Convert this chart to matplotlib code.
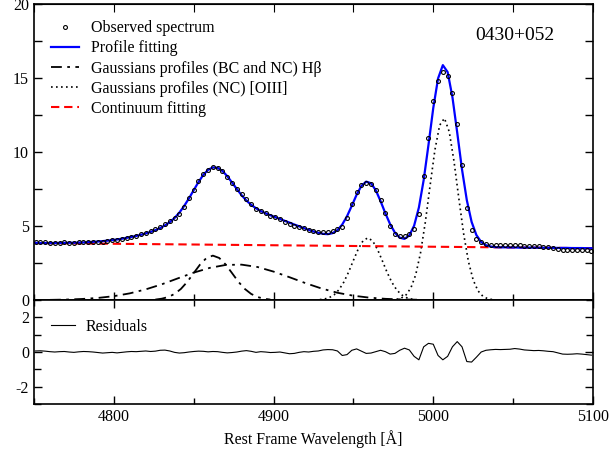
import numpy as np
import matplotlib
matplotlib.use("Agg")
import matplotlib.pyplot as plt
from matplotlib.ticker import MultipleLocator

plt.rcParams['font.family'] = ['Liberation Serif', 'DejaVu Serif']
plt.rcParams['font.size'] = 11.5
plt.rcParams['axes.unicode_minus'] = False

# spectrum grid (rest frame, 3 A bins)
wave = np.arange(4751, 5100, 3)

# profile fitting (sum of components + continuum)
fit = [3.86, 3.85, 3.85, 3.85, 3.85, 3.86, 3.86, 3.87, 3.87, 3.88,
       3.89, 3.91, 3.93, 3.95, 3.98, 4.01, 4.05, 4.09, 4.14, 4.20,
       4.26, 4.33, 4.41, 4.50, 4.60, 4.72, 4.86, 5.04, 5.26, 5.54,
       5.90, 6.35, 6.86, 7.42, 7.97, 8.45, 8.80, 8.96, 8.93, 8.72,
       8.37, 7.94, 7.50, 7.08, 6.72, 6.43, 6.20, 6.01, 5.86, 5.73,
       5.60, 5.48, 5.35, 5.23, 5.10, 4.98, 4.86, 4.74, 4.63, 4.54,
       4.47, 4.45, 4.52, 4.72, 5.10, 5.66, 6.37, 7.11, 7.71, 8.00,
       7.89, 7.42, 6.68, 5.86, 5.12, 4.55, 4.21, 4.13, 4.36, 5.02,
       6.25, 8.11, 10.48, 12.97, 14.97, 15.87, 15.40, 13.71, 11.31, 8.82,
       6.75, 5.28, 4.39, 3.92, 3.70, 3.61, 3.57, 3.56, 3.56, 3.55,
       3.55, 3.54, 3.54, 3.54, 3.54, 3.53, 3.53, 3.53, 3.52, 3.52,
       3.52, 3.52, 3.51, 3.51, 3.51, 3.50, 3.50]

# residuals (observed - fit)
resid = [0.06, 0.07, 0.05, 0.02, 0.00, 0.02, 0.03, 0.00, -0.02, 0.01,
         0.03, 0.02, 0.00, -0.03, -0.06, -0.04, -0.02, -0.05, -0.02, 0.01,
         0.03, 0.02, 0.04, 0.06, 0.03, 0.05, 0.10, 0.11, 0.06, -0.02,
         -0.06, -0.04, 0.00, 0.03, 0.05, 0.04, 0.01, 0.03, 0.02, -0.02,
         -0.05, -0.03, 0.00, 0.05, 0.08, 0.04, -0.02, 0.02, 0.00, -0.03,
         -0.02, 0.00, -0.05, -0.10, -0.08, -0.02, 0.02, 0.00, 0.04, 0.06,
         0.12, 0.14, 0.13, 0.06, -0.20, -0.15, 0.10, 0.18, 0.05, -0.08,
         -0.06, 0.02, 0.10, 0.02, -0.12, -0.08, 0.10, 0.22, 0.12, -0.25,
         -0.45, 0.30, 0.50, 0.45, -0.20, -0.45, -0.25, 0.30, 0.60, 0.30,
         -0.55, -0.58, -0.30, 0.00, 0.10, 0.13, 0.15, 0.14, 0.15, 0.16,
         0.20, 0.17, 0.12, 0.10, 0.08, 0.09, 0.07, 0.04, 0.02, -0.05,
         -0.12, -0.13, -0.12, -0.10, -0.12, -0.15, -0.18]

observed = np.array(fit) + np.array(resid)

# continuum
cont_wave = [4750, 5100]
cont = [3.85, 3.50]

# H-beta broad component
hb_bc_wave = np.arange(4760, 4991, 10)
hb_bc = [0.01, 0.03, 0.07, 0.14, 0.26, 0.45, 0.72, 1.06, 1.46, 1.85,
         2.17, 2.37, 2.39, 2.23, 1.92, 1.54, 1.14, 0.78, 0.49, 0.29,
         0.16, 0.08, 0.04, 0.02]

# H-beta narrow component
hb_nc_wave = np.arange(4826, 4899, 4)
hb_nc = [0.03, 0.09, 0.20, 0.41, 0.75, 1.23, 1.82, 2.40, 2.84, 3.00,
         2.84, 2.40, 1.82, 1.23, 0.75, 0.41, 0.20, 0.09, 0.03]

# [OIII] 4959
o3a_wave = np.arange(4929, 4990, 3)
o3a = [0.03, 0.07, 0.17, 0.36, 0.70, 1.21, 1.89, 2.68, 3.44, 4.00,
       4.20, 4.00, 3.44, 2.68, 1.89, 1.21, 0.70, 0.36, 0.17, 0.07, 0.03]

# [OIII] 5007
o3b_wave = np.arange(4977, 5038, 3)
o3b = [0.05, 0.13, 0.35, 0.82, 1.70, 3.17, 5.24, 7.72, 10.12, 11.81,
       12.28, 11.37, 9.36, 6.87, 4.49, 2.61, 1.35, 0.62, 0.26, 0.09, 0.03]

fig = plt.figure(figsize=(6.1, 4.5), dpi=100)
ax = fig.add_axes([0.0557, 0.3333, 0.9164, 0.6578])
axr = fig.add_axes([0.0557, 0.1022, 0.9164, 0.2311], sharex=ax)

dashdot = (0, (6, 3, 1.5, 3))
dotted = (0, (1, 2))
dashed = (0, (4, 2.3))

ax.axhline(0, color='k', lw=1.8, zorder=1)
ax.plot(wave, observed, 'o', ms=2.8, mfc='none', mec='k', mew=0.8,
        label='Observed spectrum', zorder=4)
ax.plot(wave, fit, color='#0000ff', lw=1.6, label='Profile fitting', zorder=3)
ax.plot(hb_bc_wave, hb_bc, color='k', lw=1.3, ls=dashdot,
        label='Gaussians profiles (BC and NC) Hβ')
ax.plot(hb_nc_wave, hb_nc, color='k', lw=1.3, ls=dashdot)
ax.plot(o3a_wave, o3a, color='k', lw=1.2, ls=dotted,
        label='Gaussians profiles (NC) [OIII]')
ax.plot(o3b_wave, o3b, color='k', lw=1.2, ls=dotted)
ax.plot(cont_wave, cont, color='#ff0000', lw=1.5, ls=dashed,
        label='Continuum fitting', zorder=2)

ax.set_xlim(4750, 5100)
ax.set_ylim(0, 20)
ax.yaxis.set_major_locator(MultipleLocator(5))
ax.yaxis.set_minor_locator(MultipleLocator(2.5))
ax.xaxis.set_major_locator(MultipleLocator(100))
ax.xaxis.set_minor_locator(MultipleLocator(50))
ax.tick_params(which='both', direction='in', right=True, top=False,
               labelbottom=False)
ax.tick_params(which='major', length=6, width=1)
ax.tick_params(which='minor', length=4, width=1)
ax.tick_params(axis='y', which='minor', length=6)
ax.secondary_xaxis('top').tick_params(which='major', direction='in',
                                     length=6, labeltop=False)

ax.text(0.86, 0.895, '0430+052', transform=ax.transAxes, fontsize=14,
        ha='center', va='center')
ax.legend(loc='upper left', bbox_to_anchor=(0.03, 0.945), frameon=False,
          numpoints=1, handlelength=1.8, handletextpad=0.7,
          labelspacing=0.26, borderpad=0, borderaxespad=0)

axr.plot(wave, resid, color='k', lw=0.8, label='Residuals')
axr.set_ylim(-3, 3)
axr.yaxis.set_major_locator(MultipleLocator(2))
axr.yaxis.set_minor_locator(MultipleLocator(1))
axr.tick_params(which='both', direction='in', right=True, top=True)
axr.tick_params(which='major', length=6, width=1)
axr.tick_params(which='minor', length=4, width=1)
axr.tick_params(axis='y', which='minor', length=5)
axr.set_xlabel('Rest Frame Wavelength [Å]')
axr.legend(loc='upper left', bbox_to_anchor=(0.03, 0.82), frameon=False,
           handlelength=1.5, handletextpad=0.7, borderpad=0, borderaxespad=0)

for a in (ax, axr):
    for s in a.spines.values():
        s.set_linewidth(1.2)

fig.savefig('out.png', dpi=100)
